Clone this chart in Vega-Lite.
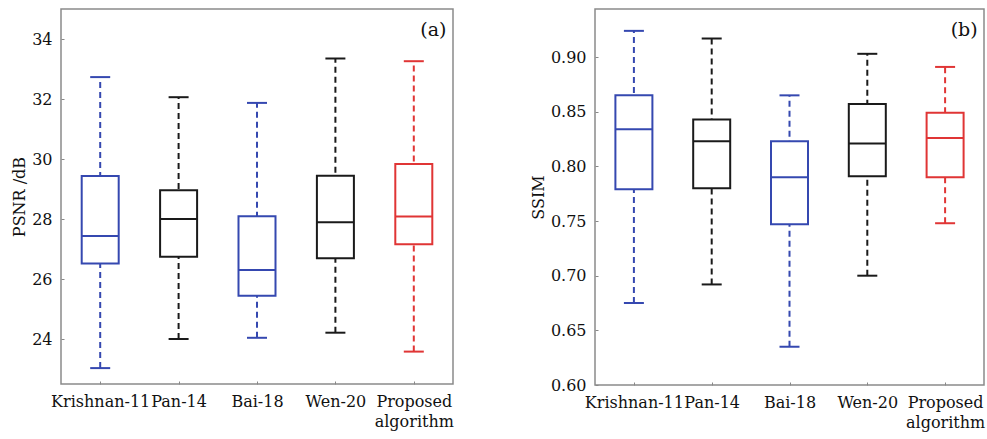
{
  "$schema": "https://vega.github.io/schema/vega-lite/v6.json",
  "background": "white",
  "padding": {"left": 10, "top": 8, "right": 0, "bottom": 2},
  "config": {
    "font": "DejaVu Serif",
    "view": {"stroke": "#8a8a8a", "strokeWidth": 1.5},
    "axis": {"domain": false, "grid": false, "labelFont": "DejaVu Serif", "labelFontSize": 16, "labelColor": "#111111", "titleFont": "DejaVu Serif", "titleFontSize": 16, "titleFontWeight": "normal", "titleColor": "#111111", "tickColor": "#888888", "tickSize": -3, "labelPadding": 12},
    "title": {"font": "DejaVu Serif", "fontSize": 19, "fontWeight": "normal", "color": "#111111"},
    "tick": {"opacity": 1}
  },
  "datasets": {
    "psnr": [
      {"method": "Krishnan-11", "lower": 23.03, "q1": 26.52, "median": 27.43, "q3": 29.43, "upper": 32.73},
      {"method": "Pan-14", "lower": 24.0, "q1": 26.74, "median": 28.0, "q3": 28.96, "upper": 32.06},
      {"method": "Bai-18", "lower": 24.04, "q1": 25.44, "median": 26.3, "q3": 28.09, "upper": 31.87},
      {"method": "Wen-20", "lower": 24.21, "q1": 26.69, "median": 27.89, "q3": 29.44, "upper": 33.35},
      {"method": "Proposed algorithm", "lower": 23.58, "q1": 27.16, "median": 28.08, "q3": 29.83, "upper": 33.26}
    ],
    "ssim": [
      {"method": "Krishnan-11", "lower": 0.675, "q1": 0.779, "median": 0.834, "q3": 0.865, "upper": 0.924},
      {"method": "Pan-14", "lower": 0.692, "q1": 0.780, "median": 0.823, "q3": 0.843, "upper": 0.917},
      {"method": "Bai-18", "lower": 0.635, "q1": 0.747, "median": 0.790, "q3": 0.823, "upper": 0.865},
      {"method": "Wen-20", "lower": 0.700, "q1": 0.791, "median": 0.821, "q3": 0.857, "upper": 0.903},
      {"method": "Proposed algorithm", "lower": 0.748, "q1": 0.790, "median": 0.826, "q3": 0.849, "upper": 0.891}
    ]
  },
  "spacing": 74,
  "hconcat": [
    {
      "width": 392,
      "height": 375,
      "data": {"name": "psnr"},
      "title": {"text": "(a)", "anchor": "end", "offset": -31, "dx": -7},
      "layer": [
        {
          "mark": {"type": "rule", "strokeDash": [6, 4], "strokeWidth": 2},
          "encoding": {
            "x": {"field": "method", "type": "nominal", "sort": null, "scale": {"type": "point", "padding": 0.5}, "axis": {"title": null, "labelAngle": 0, "labelLineHeight": 20, "labelOverlap": false, "labelExpr": "datum.label == 'Proposed algorithm' ? ['Proposed', 'algorithm'] : datum.label"}},
            "y": {"field": "lower", "type": "quantitative", "scale": {"domain": [22.5, 35], "nice": false, "zero": false}, "axis": {"title": "PSNR /dB", "values": [24, 26, 28, 30, 32, 34]}},
            "y2": {"field": "upper"},
            "color": {"field": "method", "type": "nominal", "sort": null, "scale": {"domain": ["Krishnan-11", "Pan-14", "Bai-18", "Wen-20", "Proposed algorithm"], "range": ["#3548b0", "#1a1a1a", "#3548b0", "#1a1a1a", "#e03535"]}, "legend": null}
          }
        },
        {
          "mark": {"type": "bar", "size": 37, "strokeWidth": 2, "fill": "white"},
          "encoding": {
            "x": {"field": "method", "type": "nominal", "sort": null},
            "y": {"field": "q1", "type": "quantitative"},
            "y2": {"field": "q3"},
            "stroke": {"field": "method", "type": "nominal", "sort": null, "scale": {"domain": ["Krishnan-11", "Pan-14", "Bai-18", "Wen-20", "Proposed algorithm"], "range": ["#3548b0", "#1a1a1a", "#3548b0", "#1a1a1a", "#e03535"]}, "legend": null}
          }
        },
        {
          "mark": {"type": "tick", "size": 37, "thickness": 2, "opacity": 1},
          "encoding": {
            "x": {"field": "method", "type": "nominal", "sort": null},
            "y": {"field": "median", "type": "quantitative"},
            "color": {"field": "method", "type": "nominal", "sort": null, "legend": null}
          }
        },
        {
          "mark": {"type": "tick", "size": 20, "thickness": 2, "opacity": 1},
          "encoding": {
            "x": {"field": "method", "type": "nominal", "sort": null},
            "y": {"field": "lower", "type": "quantitative"},
            "color": {"field": "method", "type": "nominal", "sort": null, "legend": null}
          }
        },
        {
          "mark": {"type": "tick", "size": 20, "thickness": 2, "opacity": 1},
          "encoding": {
            "x": {"field": "method", "type": "nominal", "sort": null},
            "y": {"field": "upper", "type": "quantitative"},
            "color": {"field": "method", "type": "nominal", "sort": null, "legend": null}
          }
        }
      ]
    },
    {
      "width": 389,
      "height": 376,
      "data": {"name": "ssim"},
      "title": {"text": "(b)", "anchor": "end", "offset": -31, "dx": -7},
      "layer": [
        {
          "mark": {"type": "rule", "strokeDash": [6, 4], "strokeWidth": 2},
          "encoding": {
            "x": {"field": "method", "type": "nominal", "sort": null, "scale": {"type": "point", "padding": 0.5}, "axis": {"title": null, "labelAngle": 0, "labelLineHeight": 20, "labelOverlap": false, "labelExpr": "datum.label == 'Proposed algorithm' ? ['Proposed', 'algorithm'] : datum.label"}},
            "y": {"field": "lower", "type": "quantitative", "scale": {"domain": [0.6, 0.944], "nice": false, "zero": false}, "axis": {"title": "SSIM", "values": [0.6, 0.65, 0.7, 0.75, 0.8, 0.85, 0.9], "format": ".2f"}},
            "y2": {"field": "upper"},
            "color": {"field": "method", "type": "nominal", "sort": null, "scale": {"domain": ["Krishnan-11", "Pan-14", "Bai-18", "Wen-20", "Proposed algorithm"], "range": ["#3548b0", "#1a1a1a", "#3548b0", "#1a1a1a", "#e03535"]}, "legend": null}
          }
        },
        {
          "mark": {"type": "bar", "size": 37, "strokeWidth": 2, "fill": "white"},
          "encoding": {
            "x": {"field": "method", "type": "nominal", "sort": null},
            "y": {"field": "q1", "type": "quantitative"},
            "y2": {"field": "q3"},
            "stroke": {"field": "method", "type": "nominal", "sort": null, "scale": {"domain": ["Krishnan-11", "Pan-14", "Bai-18", "Wen-20", "Proposed algorithm"], "range": ["#3548b0", "#1a1a1a", "#3548b0", "#1a1a1a", "#e03535"]}, "legend": null}
          }
        },
        {
          "mark": {"type": "tick", "size": 37, "thickness": 2, "opacity": 1},
          "encoding": {
            "x": {"field": "method", "type": "nominal", "sort": null},
            "y": {"field": "median", "type": "quantitative"},
            "color": {"field": "method", "type": "nominal", "sort": null, "legend": null}
          }
        },
        {
          "mark": {"type": "tick", "size": 20, "thickness": 2, "opacity": 1},
          "encoding": {
            "x": {"field": "method", "type": "nominal", "sort": null},
            "y": {"field": "lower", "type": "quantitative"},
            "color": {"field": "method", "type": "nominal", "sort": null, "legend": null}
          }
        },
        {
          "mark": {"type": "tick", "size": 20, "thickness": 2, "opacity": 1},
          "encoding": {
            "x": {"field": "method", "type": "nominal", "sort": null},
            "y": {"field": "upper", "type": "quantitative"},
            "color": {"field": "method", "type": "nominal", "sort": null, "legend": null}
          }
        }
      ]
    }
  ]
}
